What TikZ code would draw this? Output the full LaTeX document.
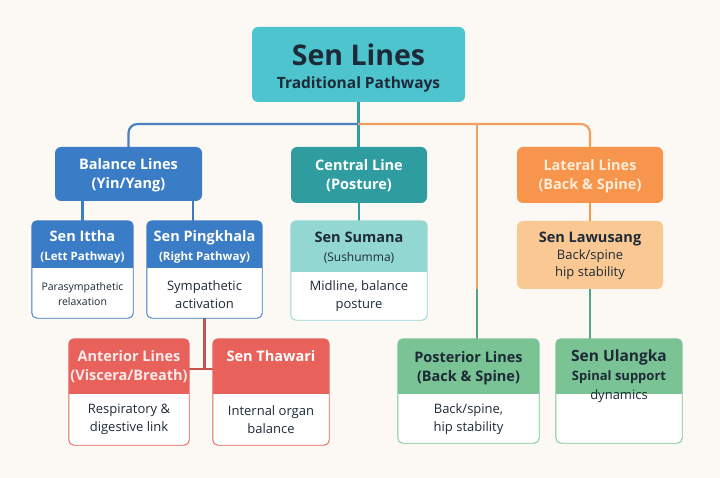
\documentclass[tikz,border=0pt]{standalone}
\usepackage{fontspec}
\setmainfont{Open Sans}
\usetikzlibrary{positioning}

\definecolor{paper}{HTML}{FCF8F3}
\definecolor{ink}{HTML}{1E2A38}
\definecolor{titleteal}{HTML}{4EC5CE}
\definecolor{balblue}{HTML}{3B7CC6}
\definecolor{centteal}{HTML}{2F9DA0}
\definecolor{lightteal}{HTML}{93D7D3}
\definecolor{latorange}{HTML}{F6954B}
\definecolor{lightorange}{HTML}{FAC893}
\definecolor{antred}{HTML}{E8615A}
\definecolor{postgreen}{HTML}{7AC394}
\definecolor{busblue}{HTML}{4A80BC}
\definecolor{busorange}{HTML}{EFA062}
\definecolor{linkgreen}{HTML}{4FA58E}

\tikzset{
  box/.style={fill=#1, rounded corners=6pt, inner sep=0pt},
  card/.style={fill=white, rounded corners=5pt, inner sep=0pt},
  head/.style={align=center, font=\bfseries\fontsize{14.5}{19}\selectfont, text=white},
  darkhead/.style={head, text=ink},
  body/.style={align=center, font=\fontsize{13}{18}\selectfont, text=ink},
  link/.style={line width=2.2pt, #1},
}

% header band of a card: name, colour, height
\newcommand{\cardhead}[3]{%
  \begin{scope}
    \clip[rounded corners=5pt] (#1.north west) rectangle (#1.south east);
    \fill[#2] (#1.north west) rectangle ([yshift=-#3]#1.north east);
  \end{scope}
  \draw[#2, line width=0.9pt, rounded corners=5pt] (#1.north west) rectangle (#1.south east);}

\begin{document}
\begin{tikzpicture}[x=1pt,y=-1pt]
\fill[paper] (0,0) rectangle (720,478);

% connectors
\coordinate (hub) at (358,124);
\coordinate (postop) at (477,124);
\coordinate (pk) at (193,210);
\coordinate (rj) at (204.5,369);

\node[box=titleteal, minimum width=213pt, minimum height=75pt] (title) at (358.5,64.5) {};
\node[box=balblue, minimum width=147pt, minimum height=54pt] (balance) at (128.5,174) {};
\node[box=centteal, minimum width=136pt, minimum height=56pt] (central) at (359,175) {};
\node[box=latorange, minimum width=146pt, minimum height=56pt] (lateral) at (590,175) {};
\node[box=lightorange, minimum width=146pt, minimum height=68pt] (lawusang) at (590,255) {};

\node[card, minimum width=101pt, minimum height=97pt] (ittha) at (82.5,269.5) {};
\node[card, minimum width=115pt, minimum height=97pt] (pingkhala) at (204.5,269.5) {};
\node[card, minimum width=136pt, minimum height=99pt] (sumana) at (359,270.5) {};
\node[card, minimum width=120pt, minimum height=106pt] (anterior) at (129,392) {};
\node[card, minimum width=116pt, minimum height=106pt] (thawari) at (271,392) {};
\node[card, minimum width=141pt, minimum height=104pt] (posterior) at (468.5,391) {};
\node[card, minimum width=126pt, minimum height=104pt] (ulangka) at (619,391) {};

\draw[link=centteal] (title.south) -- (title.south |- central.north);
\draw[link=busblue, rounded corners=9pt] (hub) -| (balance.north);
\draw[link=busorange, rounded corners=9pt] (hub) -| (lateral.north);
\draw[link=busorange] (postop) -- (postop |- lawusang.south);
\draw[link=linkgreen!80!gray] (postop |- lawusang.south) -- (postop |- posterior.north);
\draw[link=balblue] (balance.south -| ittha.north) -- (ittha.north);
\draw[link=balblue] (balance.south -| pk) -- (pingkhala.north -| pk);
\draw[link=centteal] (central.south) -- (sumana.north);
\draw[link=latorange] (lateral.south) -- (lawusang.north);
\draw[link=linkgreen] (lawusang.south) -- (lawusang.south |- ulangka.north);
\draw[link=antred!85!black] (pingkhala.south) -- (rj);
\draw[link=antred!85!black] (anterior.east |- rj) -- (thawari.west |- rj);

\cardhead{ittha}{balblue}{47pt}
\cardhead{pingkhala}{balblue}{47pt}
\cardhead{sumana}{lightteal}{51pt}
\cardhead{anterior}{antred}{55pt}
\cardhead{thawari}{antred}{55pt}
\cardhead{posterior}{postgreen}{55pt}
\cardhead{ulangka}{postgreen}{55pt}

% texts
\node[text=ink, font=\bfseries\fontsize{28.5}{30}\selectfont] (titlemain) at (358.5,55) {Sen Lines};
\node[text=ink, font=\bfseries\fontsize{15.5}{18}\selectfont] (titlesub) at (358.5,84) {Traditional Pathways};

\node[head] (balancetxt) at (128.5,175) {Balance Lines\\(Yin/Yang)};
\node[head] (centraltxt) at (359,176) {Central Line\\(Posture)};
\node[head, text=orange!15] (lateraltxt) at (590,176) {Lateral Lines\\(Back \& Spine)};
\node[darkhead, font=\bfseries\fontsize{14.5}{17}\selectfont] (lawusangtxt) at (590,256)
  {Sen Lawusang\\{\fontsize{13}{17}\selectfont\mdseries Back/spine}\\{\fontsize{13}{17}\selectfont\mdseries hip stability}};

\node[head] (itthahead) at (82.5,247) {Sen Ittha\\{\fontsize{11.5}{14}\selectfont (Lett Pathway)}};
\node[body, font=\fontsize{10.5}{15}\selectfont] (itthabody) at (82.5,294.5) {Parasympathetic\\relaxation};
\node[head] (pingkhalahead) at (204.5,247) {Sen Pingkhala\\{\fontsize{11.5}{14}\selectfont (Right Pathway)}};
\node[body] (pingkhalabody) at (204.5,295) {Sympathetic\\activation};
\node[darkhead] (sumanahead) at (359,248) {Sen Sumana\\{\fontsize{12}{14}\selectfont\mdseries (Sushumma)}};
\node[body] (sumanabody) at (359,296) {Midline, balance\\posture};

\node[head, text=red!8] (anteriorhead) at (129,366.5) {Anterior Lines\\(Viscera/Breath)};
\node[body] (anteriorbody) at (129,419.5) {Respiratory \&\\digestive link};
\node[head] (thawarihead) at (271,356) {Sen Thawari};
\node[body] (thawaribody) at (271,419.5) {Internal organ\\balance};
\node[darkhead] (posteriorhead) at (468.5,368) {Posterior Lines\\(Back \& Spine)};
\node[body] (posteriorbody) at (468.5,419.5) {Back/spine,\\hip stability};
\node[darkhead, font=\bfseries\fontsize{15.5}{19}\selectfont] (ulangkahead) at (619,376)
  {Sen Ulangka\\{\fontsize{13}{17}\selectfont Spinal support}\\{\fontsize{13}{17}\selectfont\mdseries dynamics}};
\end{tikzpicture}
\end{document}
